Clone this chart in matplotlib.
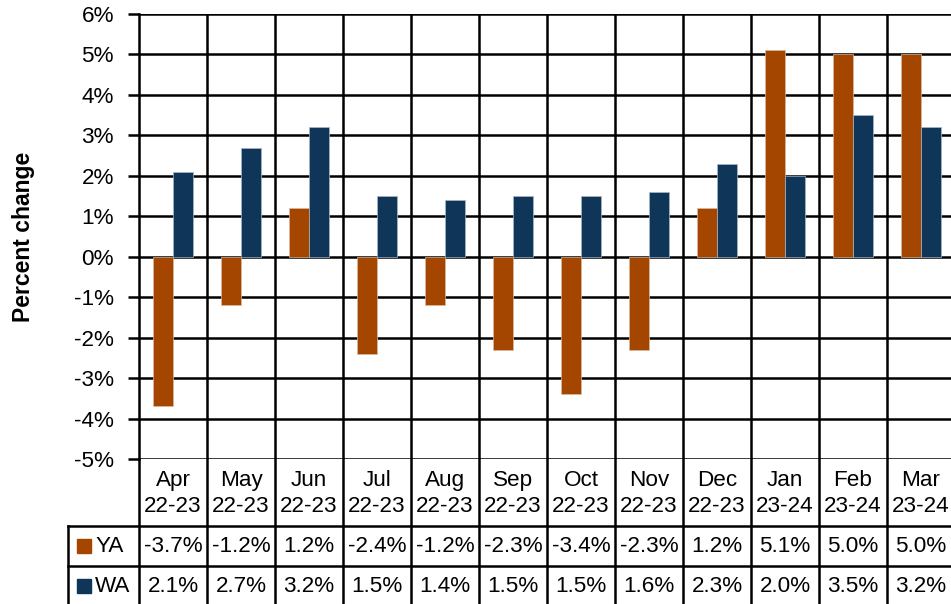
import matplotlib
matplotlib.use("Agg")
import matplotlib.pyplot as plt
import numpy as np

plt.rcParams['font.family'] = ['Liberation Sans', 'DejaVu Sans']

months = ["Apr", "May", "Jun", "Jul", "Aug", "Sep", "Oct", "Nov", "Dec", "Jan", "Feb", "Mar"]
years = ["22-23"] * 9 + ["23-24"] * 3
series_names = ["YA", "WA"]
ya = [-3.7, -1.2, 1.2, -2.4, -1.2, -2.3, -3.4, -2.3, 1.2, 5.1, 5.0, 5.0]
wa = [2.1, 2.7, 3.2, 1.5, 1.4, 1.5, 1.5, 1.6, 2.3, 2.0, 3.5, 3.2]
yticks = [-5, -4, -3, -2, -1, 0, 1, 2, 3, 4, 5, 6]

c_ya = "#A54600"
c_wa = "#0F3558"
FS = 16.2

W, H = 951, 604
fig = plt.figure(figsize=(W / 100, H / 100), dpi=100)

# layout in pixels
L, R = 139, 955
T, B = 14, 459
n = len(months)
colw = (R - L) / n
lw = 1.8

ax = fig.add_axes([L / W, (H - B) / H, (R - L) / W, (B - T) / H])
x = np.arange(n)
bw = 0.287
ax.bar(x - bw / 2, ya, bw, color=c_ya, zorder=3, edgecolor="#d9b8a0", linewidth=0.5)
ax.bar(x + bw / 2, wa, bw, color=c_wa, zorder=3, edgecolor="#a8b8c8", linewidth=0.5)
ax.set_xlim(-0.5, n - 0.5)
ax.set_ylim(-5, 6)
ax.set_yticks(yticks)
ax.set_yticklabels([f"{v}%" for v in yticks], fontsize=FS)
ax.set_xticks([])
for s in ["top", "right", "bottom"]:
    ax.spines[s].set_visible(False)
ax.spines["left"].set_linewidth(lw)
ax.tick_params(axis="y", length=8, width=lw, pad=10, direction="out")
for v in yticks:
    ax.axhline(v, color="black", lw=lw, zorder=1)
for i in range(n - 1):
    ax.axvline(i + 0.5, color="black", lw=lw, zorder=1)
ax.set_ylabel("Percent change", fontsize=16.5, fontweight="bold")
ax.yaxis.set_label_coords((35 - L) / (R - L), 0.5)

# table axes below
TL = 68
TB = 606
tax = fig.add_axes([TL / W, (H - TB) / H, (R - TL) / W, (TB - B) / H])
x0 = -0.5 - (L - TL) / colw
tax.set_xlim(x0, n - 0.5)
tax.set_ylim(TB - B, 0)
tax.axis("off")
hdr = 526 - B
r1 = 566 - B
r2 = TB - B
# horizontal lines
for yy in (hdr, r1, r2):
    tax.plot([x0, n - 0.5], [yy, yy], color="black", lw=lw, clip_on=False)
# vertical lines
for i in range(n):
    tax.plot([i - 0.5, i - 0.5], [0, r2], color="black", lw=lw, clip_on=False)
tax.plot([x0, x0], [hdr, r2], color="black", lw=lw, clip_on=False)

for i in range(n):
    tax.text(i, hdr / 2 + 1, f"{months[i]}\n{years[i]}", ha="center", va="center",
             fontsize=FS, linespacing=1.35)
    tax.text(i, (hdr + r1) / 2 + 1, f"{ya[i]:.1f}%", ha="center", va="center", fontsize=FS)
    tax.text(i, (r1 + r2) / 2 + 1, f"{wa[i]:.1f}%", ha="center", va="center", fontsize=FS)

def px2x(p):
    return -0.5 + (p - L) / colw

for name, col, yc in [(series_names[0], c_ya, (hdr + r1) / 2), (series_names[1], c_wa, (r1 + r2) / 2)]:
    tax.plot([px2x(84)], [yc], marker="s", markersize=10, color=col, linestyle="none")
    tax.text(px2x(95), yc + 1, name, ha="left", va="center", fontsize=FS)

fig.savefig("out.png", dpi=100)
